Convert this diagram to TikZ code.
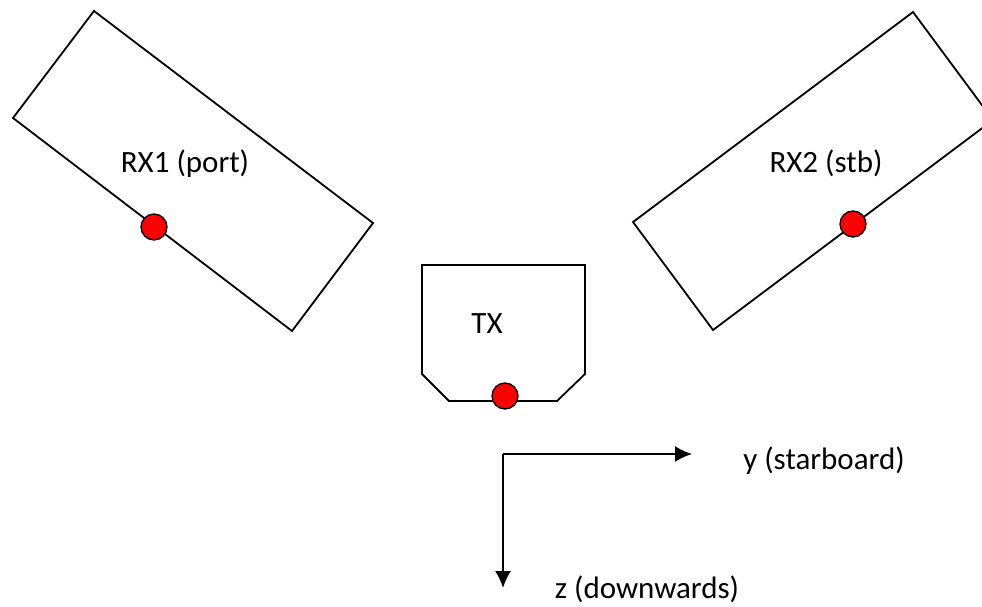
\documentclass[tikz,border=0pt]{standalone}
\usepackage{fontspec}
\setmainfont{Carlito}
\usetikzlibrary{positioning}
\usetikzlibrary{arrows.meta}

\begin{document}
\begin{tikzpicture}[x=1pt,y=-1pt,line width=1.8pt,>={Latex[length=17pt,width=16pt]},
 dot/.style={circle,draw,line width=1.3pt,fill=red,inner sep=0pt,minimum size=26pt},
 lbl/.style={font=\fontsize{31}{36}\selectfont,inner sep=0pt,anchor=base}]

\clip (0,0) rectangle (982,607);

% receivers
\draw (94,11) -- (373,223) -- (292,331) -- (13,118) -- cycle;
\draw (913,12) -- (993,120) -- (713,330) -- (633,222) -- cycle;
% transmitter
\draw (422,265) -- (585,265) -- (585,374) -- (557,401) -- (449,401) -- (422,374) -- cycle;

\node[lbl] (rx1lbl) at (185,172) {RX1 (port)};
\node[lbl] (rx2lbl) at (826,172) {RX2 (stb)};
\node[lbl] (txlbl) at (487,333) {TX};

\node[dot] (rx1) at (154,227) {};
\node[dot] (rx2) at (853,224) {};
\node[dot] (tx) at (505,396) {};

% axes
\coordinate (origin) at (503,454);
\coordinate (yend) at (692,454);
\coordinate (zend) at (503,588);
\draw[->] (origin) -- (yend);
\draw[->] (origin) -- (zend);
\node[lbl] (ylbl) at (824,469) {y (starboard)};
\node[lbl] (zlbl) at (647,598) {z (downwards)};

\end{tikzpicture}
\end{document}
